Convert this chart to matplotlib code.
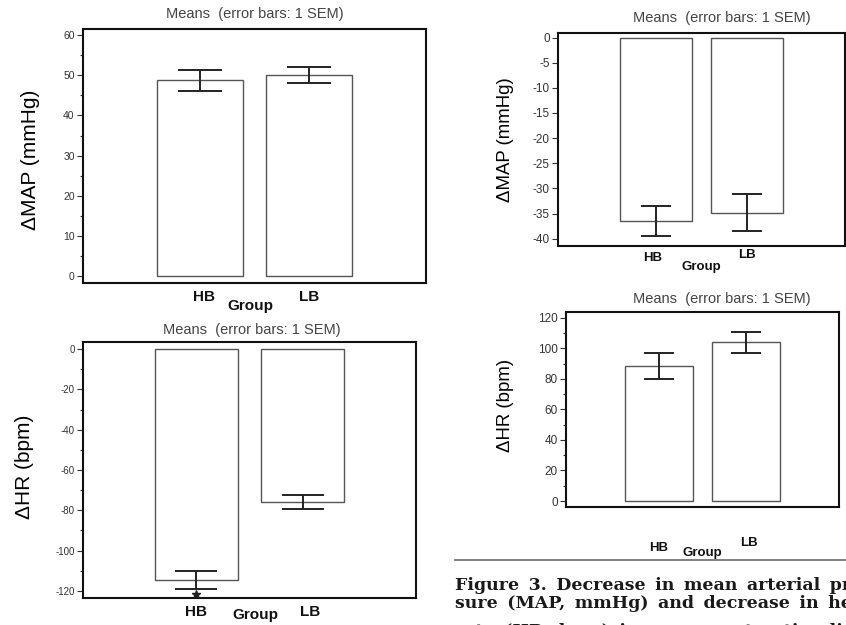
import numpy as np
import matplotlib
matplotlib.use('Agg')
from matplotlib import pyplot as plt
from matplotlib.lines import Line2D
from matplotlib.ticker import MultipleLocator
from matplotlib.transforms import offset_copy

plt.rcParams['font.family'] = ['Liberation Sans', 'DejaVu Sans']
plt.rcParams['axes.unicode_minus'] = False

groups = ['HB', 'LB']
group_label = 'Group'
title = 'Means  (error bars: 1 SEM)'

map_up_mean = [48.7, 50.0]
map_up_sem = [2.65, 1.95]
hr_down_mean = [-114.4, -75.9]
hr_down_sem = [4.4, 3.6]
map_down_mean = [-36.5, -34.8]
map_down_sem = [3.05, 3.7]
hr_up_mean = [88.2, 103.8]
hr_up_sem = [8.5, 6.9]

caption = ['Figure 3. Decrease in mean arterial pres-',
           'sure (MAP, mmHg) and decrease in heart',
           'rate (HR, bpm) in response to stimuli']

W, H = 846, 625


def px_rect(x0, y0, x1, y1):
    return [x0 / W, 1 - y1 / H, (x1 - x0) / W, (y1 - y0) / H]


def Bar_panel(fig, rect, means, sems, ylim, major, minor, capsize, tick_fs,
              lab_fs, title_pos, hb_pos, lb_pos, grp_pos):
    ax = fig.add_axes(px_rect(*rect))
    x = np.arange(len(groups))
    ax.bar(x, means, width=0.79, color='white', edgecolor='#555555', linewidth=1.0, zorder=2)
    ax.errorbar(x, means, yerr=sems, fmt='none', ecolor='#222222', elinewidth=1.4,
                capsize=capsize, capthick=1.4, zorder=3)
    ax.set_xlim(-1.07, 2.07)
    ax.set_ylim(*ylim)
    ax.yaxis.set_major_locator(MultipleLocator(major))
    if minor:
        ax.yaxis.set_minor_locator(MultipleLocator(minor))
    ax.set_xticks([])
    ax.tick_params(axis='y', which='major', direction='out', length=4, width=0.8,
                   labelsize=tick_fs, labelcolor='#333333', color='#333333', pad=2)
    ax.tick_params(axis='y', which='minor', direction='out', length=2.5, width=0.8,
                   color='#333333')
    for s in ax.spines.values():
        s.set_linewidth(1.5)
        s.set_color('#111111')
    ax.text(title_pos[0], 1 + title_pos[1], title, transform=ax.transAxes,
            ha='center', va='center', fontsize=10.5, color='#444444')
    tr = ax.get_xaxis_transform()
    ax.text(hb_pos[0], hb_pos[1], groups[0], transform=tr, ha='center', va='center',
            fontsize=lab_fs, fontweight='bold', color='#111111')
    ax.text(lb_pos[0], lb_pos[1], groups[1], transform=tr, ha='center', va='center',
            fontsize=lab_fs, fontweight='bold', color='#111111')
    ax.text(grp_pos[0], grp_pos[1], group_label, transform=ax.transAxes, ha='center',
            va='center', fontsize=lab_fs, fontweight='bold', color='#111111')
    return ax


fig = plt.figure(figsize=(8.46, 6.25), dpi=100)

Bar_panel(fig, (83, 29, 426, 283), map_up_mean, map_up_sem, (-1.7, 61.5), 10, 5,
          15.5, 7.5, 11, (0.501, 0.059), (0.04, -0.055), (1.0, -0.055), (0.487, -0.092))
ax2 = Bar_panel(fig, (83, 342, 416, 598), hr_down_mean, hr_down_sem, (-123.5, 3.5), 20, 10,
                15, 7, 11, (0.508, 0.047), (0.0, -0.055), (1.07, -0.055), (0.517, -0.068))
# significance star just under the HB error bar
star_tr = offset_copy(ax2.transData, fig=fig, y=-5, units='dots')
ax2.plot([0], [hr_down_mean[0] - hr_down_sem[0]], marker='*', ms=6, color='#222222',
         linestyle='none', transform=star_tr, zorder=4)
Bar_panel(fig, (558, 33, 845, 246), map_down_mean, map_down_sem, (-41.45, 0.9), 5, None,
          10.8, 8.5, 9.5, (0.57, 0.070), (-0.03, -0.056), (1.0, -0.042), (0.50, -0.097))
Bar_panel(fig, (566, 312, 839, 507), hr_up_mean, hr_up_sem, (-3.9, 123.7), 20, 10,
          10.8, 8.5, 9.5, (0.57, 0.069), (0.0, -0.212), (1.03, -0.186), (0.498, -0.237))

fig.text(30 / W, 1 - 160 / H, '\u0394MAP (mmHg)', rotation=90, ha='center', va='center', fontsize=15)
fig.text(25 / W, 1 - 467 / H, '\u0394HR (bpm)', rotation=90, ha='center', va='center', fontsize=15)
fig.text(505 / W, 1 - 140 / H, '\u0394MAP (mmHg)', rotation=90, ha='center', va='center', fontsize=13.4)
fig.text(505 / W, 1 - 405 / H, '\u0394HR (bpm)', rotation=90, ha='center', va='center', fontsize=13.4)

# justified caption: widen the word gaps a little
fig.add_artist(Line2D([455 / W, 1], [1 - 560 / H, 1 - 560 / H], color='#777777', linewidth=1.3))
for line, base in zip(caption, [590, 608, 636]):
    fig.text(455 / W, 1 - base / H, line.replace(' ', ' \u2009'), ha='left', va='baseline',
             fontsize=12.5, fontweight='bold', family='DejaVu Serif', color='#1a1a1a')

fig.savefig('out.png', dpi=100)
